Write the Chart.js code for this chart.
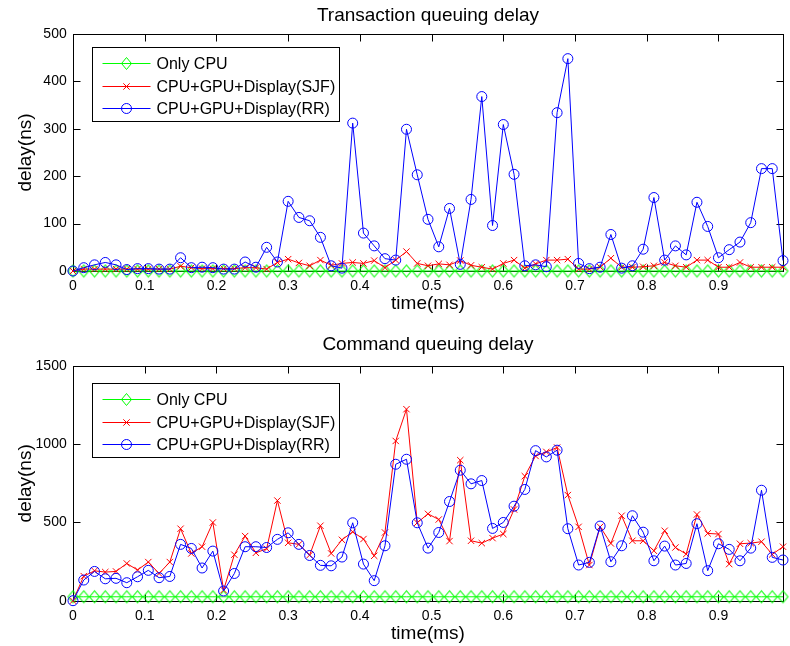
<!DOCTYPE html>
<html>
<head>
<meta charset="utf-8">
<title>Queuing delay</title>
<script src="https://cdn.jsdelivr.net/npm/chart.js@4.4.1/dist/chart.umd.min.js"></script>
<style>
  body { margin: 0; background: #fff; }
  .plot { position: absolute; left: 0; width: 790px; height: 323px; }
  #top { top: 0; }
  #bottom { top: 323px; }
</style>
</head>
<body>
<div class="plot" id="top"><canvas id="transCanvas" width="790" height="323"></canvas></div>
<div class="plot" id="bottom"><canvas id="cmdCanvas" width="790" height="323"></canvas></div>
<script>
const FONT = "'Liberation Sans', Arial, Helvetica, sans-serif";

const seriesNames = ['Only CPU', 'CPU+GPU+Display(SJF)', 'CPU+GPU+Display(RR)'];

// sample times (ms)
const times = [0, 0.015, 0.03, 0.045, 0.06, 0.075, 0.09, 0.105, 0.12, 0.135,
  0.15, 0.165, 0.18, 0.195, 0.21, 0.225, 0.24, 0.255, 0.27, 0.285,
  0.3, 0.315, 0.33, 0.345, 0.36, 0.375, 0.39, 0.405, 0.42, 0.435,
  0.45, 0.465, 0.48, 0.495, 0.51, 0.525, 0.54, 0.555, 0.57, 0.585,
  0.6, 0.615, 0.63, 0.645, 0.66, 0.675, 0.69, 0.705, 0.72, 0.735,
  0.75, 0.765, 0.78, 0.795, 0.81, 0.825, 0.84, 0.855, 0.87, 0.885,
  0.9, 0.915, 0.93, 0.945, 0.96, 0.975, 0.99];

const xTicks = [0, 0.1, 0.2, 0.3, 0.4, 0.5, 0.6, 0.7, 0.8, 0.9];

// transaction queuing delay (ns)
const transCpu = [0, 0, 0, 0, 0, 0, 0, 0, 0, 0,
  0, 0, 0, 0, 0, 0, 0, 0, 0, 0,
  0, 0, 0, 0, 0, 0, 0, 0, 0, 0,
  0, 0, 0, 0, 0, 0, 0, 0, 0, 0,
  0, 0, 0, 0, 0, 0, 0, 0, 0, 0,
  0, 0, 0, 0, 0, 0, 0, 0, 0, 0,
  0, 0, 0, 0, 0, 0, 0];
const transSjf = [0, 4, 4, 4, 4, 4, 4, 4, 4, 4,
  10, 7, 5, 5, 5, 5, 7, 7, 4, 18,
  25, 17, 11, 23, 12, 16, 18, 16, 22, 7,
  23, 41, 16, 11, 15, 13, 22, 12, 8, 4,
  16, 23, 6, 15, 23, 23, 25, 4, 4, 8,
  27, 8, 8, 9, 11, 18, 11, 8, 23, 23,
  8, 8, 18, 8, 8, 8, 8];
const transRr = [0, 7, 13, 18, 13, 3, 5, 5, 4, 4,
  28, 7, 8, 7, 4, 4, 19, 8, 50, 19,
  147, 113, 106, 71, 11, 6, 312, 80, 53, 26,
  23, 299, 203, 109, 51, 132, 14, 151, 368, 96,
  309, 204, 11, 13, 9, 334, 448, 16, 5, 8,
  77, 6, 11, 46, 155, 23, 53, 34, 145, 94,
  28, 45, 61, 102, 216, 216, 22];
const transTicks = [0, 100, 200, 300, 400, 500];

// command queuing delay (ns)
const cmdCpu = [25, 25, 25, 25, 25, 25, 25, 25, 25, 25,
  25, 25, 25, 25, 25, 25, 25, 25, 25, 25,
  25, 25, 25, 25, 25, 25, 25, 25, 25, 25,
  25, 25, 25, 25, 25, 25, 25, 25, 25, 25,
  25, 25, 25, 25, 25, 25, 25, 25, 25, 25,
  25, 25, 25, 25, 25, 25, 25, 25, 25, 25,
  25, 25, 25, 25, 25, 25, 25];
const cmdSjf = [0, 157, 191, 183, 187, 238, 196, 247, 174, 247,
  460, 302, 345, 500, 68, 294, 413, 306, 332, 640,
  370, 360, 292, 479, 302, 389, 440, 394, 287, 436,
  1021, 1224, 498, 555, 519, 381, 898, 383, 368, 400,
  426, 583, 796, 925, 951, 979, 675, 472, 228, 472,
  366, 543, 383, 383, 319, 447, 340, 298, 551, 430,
  426, 234, 364, 368, 377, 296, 345];
const cmdRr = [0, 132, 187, 140, 143, 115, 153, 194, 147, 155,
  360, 334, 209, 317, 62, 174, 345, 345, 340, 392,
  434, 360, 289, 226, 223, 279, 498, 234, 128, 351,
  872, 904, 498, 336, 436, 634, 834, 747, 768, 462,
  500, 604, 711, 959, 919, 962, 460, 228, 245, 477,
  249, 351, 543, 438, 255, 349, 228, 238, 492, 192,
  364, 328, 255, 336, 706, 277, 260];
const cmdTicks = [0, 500, 1000, 1500];

const colors = ['#00ff00', '#ff0000', '#0000ff'];
const markers = ['diamond', 'crossRot', 'circle'];
const markerSize = [6, 4.5, 5];

function drawMarker(ctx, style, x, y, r) {
  ctx.beginPath();
  if (style === 'diamond') {
    ctx.moveTo(x - r * 0.83, y);
    ctx.lineTo(x, y - r);
    ctx.lineTo(x + r * 0.83, y);
    ctx.lineTo(x, y + r);
    ctx.closePath();
  } else if (style === 'crossRot') {
    const d = r * Math.SQRT1_2;
    ctx.moveTo(x - d, y - d); ctx.lineTo(x + d, y + d);
    ctx.moveTo(x - d, y + d); ctx.lineTo(x + d, y - d);
  } else {
    ctx.arc(x, y, r, 0, Math.PI * 2);
  }
  ctx.stroke();
}

// tall diamond sprite, Chart.js only has a square one
function diamondSprite(color, r) {
  const c = document.createElement('canvas');
  c.width = 13; c.height = 15;
  const g = c.getContext('2d');
  g.strokeStyle = color;
  g.lineWidth = 1.1;
  drawMarker(g, 'diamond', 6.5, 7.5, r);
  return c;
}

// axes box with inward ticks on all four sides
const boxPlugin = {
  id: 'boxPlugin',
  beforeDatasetsDraw(chart) {
    const { ctx, chartArea: a, scales } = chart;
    const l = Math.round(a.left) + 0.5, r = Math.round(a.right) + 0.5;
    const t = Math.round(a.top) + 0.5, b = Math.round(a.bottom) + 0.5;
    ctx.save();
    ctx.strokeStyle = '#000';
    ctx.lineWidth = 1;
    ctx.strokeRect(l, t, r - l, b - t);
    ctx.beginPath();
    scales.x.ticks.forEach(tk => {
      const px = Math.round(scales.x.getPixelForValue(tk.value)) + 0.5;
      ctx.moveTo(px, b); ctx.lineTo(px, b - 7);
      ctx.moveTo(px, t); ctx.lineTo(px, t + 7);
    });
    scales.y.ticks.forEach(tk => {
      const py = Math.round(scales.y.getPixelForValue(tk.value)) + 0.5;
      ctx.moveTo(l, py); ctx.lineTo(l + 7, py);
      ctx.moveTo(r, py); ctx.lineTo(r - 7, py);
    });
    ctx.stroke();
    ctx.restore();
  }
};

// boxed legend inside the axes, upper left
const boxLegend = {
  id: 'boxLegend',
  afterDraw(chart, args, opts) {
    const { ctx, chartArea: a } = chart;
    const x0 = Math.round(a.left + opts.dx) + 0.5;
    const y0 = Math.round(a.top + opts.dy) + 0.5;
    const w = 247, h = 74;
    ctx.save();
    ctx.fillStyle = '#fff';
    ctx.fillRect(x0, y0, w, h);
    ctx.strokeStyle = '#000';
    ctx.lineWidth = 1;
    ctx.strokeRect(x0, y0, w, h);
    ctx.font = '16px ' + FONT;
    ctx.textBaseline = 'middle';
    ctx.fillStyle = '#000';
    chart.data.datasets.forEach((ds, i) => {
      const y = Math.round(y0 + 15.5 + i * 22.7) + 0.5;
      ctx.strokeStyle = ds.borderColor;
      ctx.beginPath();
      ctx.moveTo(x0 + 10, y);
      ctx.lineTo(x0 + 58, y);
      ctx.stroke();
      drawMarker(ctx, markers[i], x0 + 34, y, markerSize[i]);
      ctx.fillText(ds.label, x0 + 64, y + 1);
    });
    ctx.restore();
  }
};

function makeChart(canvasId, title, yValues, yTicks, layout) {
  const datasets = yValues.map((vals, i) => ({
    label: seriesNames[i],
    data: times.map((t, k) => ({ x: t, y: vals[k] })),
    borderColor: colors[i],
    backgroundColor: 'rgba(0,0,0,0)',
    borderWidth: 1,
    pointStyle: markers[i] === 'diamond' ? diamondSprite(colors[i], markerSize[i]) : markers[i],
    pointRadius: markerSize[i],
    pointBorderWidth: 1,
    pointBackgroundColor: 'rgba(0,0,0,0)',
    pointBorderColor: colors[i],
    tension: 0,
    clip: false,
    order: 2 - i
  }));

  return new Chart(document.getElementById(canvasId), {
    type: 'line',
    data: { datasets },
    options: {
      responsive: false,
      animation: false,
      layout: { padding: { left: 0, right: 1, top: 0, bottom: 0 } },
      plugins: {
        legend: { display: false },
        tooltip: { enabled: false },
        title: {
          display: true,
          fullSize: false,
          text: title,
          color: '#000',
          font: { family: FONT, size: 19, weight: 'normal' },
          padding: { top: layout.titleTop, bottom: layout.titleBottom }
        },
        boxLegend: { dx: 19, dy: layout.legendDy }
      },
      scales: {
        x: {
          type: 'linear',
          min: 0,
          max: times[times.length - 1],
          afterFit: s => { s.height = layout.xHeight; },
          afterBuildTicks: s => { s.ticks = xTicks.map(v => ({ value: v })); },
          grid: { display: false, drawTicks: false },
          border: { display: false },
          ticks: {
            color: '#000',
            padding: 6.6,
            maxRotation: 0,
            font: { family: FONT, size: 14 },
            callback: v => String(v)
          },
          title: {
            display: true,
            text: 'time(ms)',
            color: '#000',
            font: { family: FONT, size: 19 },
            padding: { top: 0, bottom: layout.xTitleBottom }
          }
        },
        y: {
          min: yTicks[0],
          max: yTicks[yTicks.length - 1],
          afterFit: s => { s.width = 73; },
          afterBuildTicks: s => { s.ticks = yTicks.map(v => ({ value: v })); },
          grid: { display: false, drawTicks: false },
          border: { display: false },
          ticks: {
            color: '#000',
            padding: 6.3,
            font: { family: FONT, size: 14 },
            callback: v => String(v)
          },
          title: {
            display: true,
            text: 'delay(ns)',
            color: '#000',
            font: { family: FONT, size: 19 },
            padding: { top: 14, bottom: 0 }
          }
        }
      }
    },
    plugins: [boxPlugin, boxLegend]
  });
}

makeChart('transCanvas', 'Transaction queuing delay',
  [transCpu, transSjf, transRr], transTicks,
  { titleTop: 4.7, titleBottom: 6.5, xHeight: 52, xTitleBottom: 7.6, legendDy: 13 });

makeChart('cmdCanvas', 'Command queuing delay',
  [cmdCpu, cmdSjf, cmdRr], cmdTicks,
  { titleTop: 10, titleBottom: 10.2, xHeight: 45.3, xTitleBottom: 1, legendDy: 16.7 });
</script>
</body>
</html>
